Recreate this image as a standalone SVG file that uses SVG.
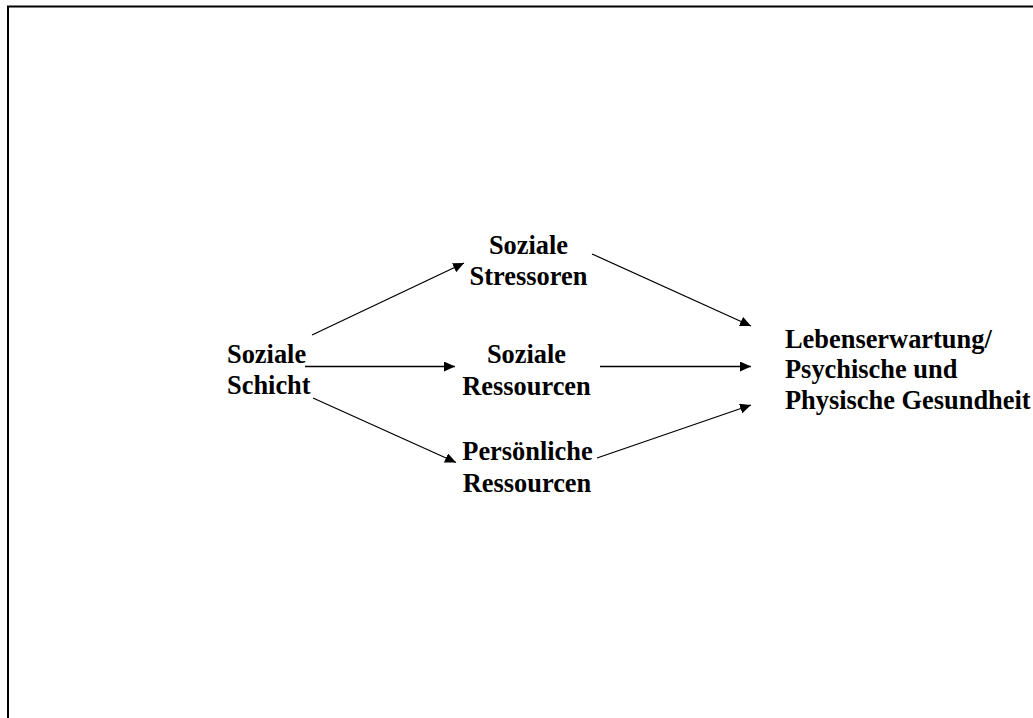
<svg xmlns="http://www.w3.org/2000/svg" width="1033" height="718" viewBox="0 0 1033 718">
  <style>
    .lbl { font-family: "Liberation Serif", "Times New Roman", serif; font-weight: bold; font-size: 26.4px; fill: #000; }
    .mid { text-anchor: middle; }
    .edge { stroke: #000; stroke-width: 1.3; fill: none; marker-end: url(#head); }
  </style>
  <defs>
    <marker id="head" markerUnits="userSpaceOnUse" markerWidth="12" markerHeight="10" refX="11" refY="5" orient="auto">
      <path d="M0,0 L11,5 L0,10 Z" fill="#000"/>
    </marker>
  </defs>
  <rect width="1033" height="718" fill="#fff"/>
  <!-- frame: top and left edges only -->
  <path d="M8,718 V6.5 H1033" fill="none" stroke="#000" stroke-width="2"/>

  <g id="connectors">
    <line class="edge" x1="312" y1="335" x2="464" y2="263"/>
    <line class="edge" x1="305" y1="366.5" x2="455" y2="366.5"/>
    <line class="edge" x1="313" y1="398" x2="456" y2="462.5"/>
    <line class="edge" x1="592" y1="254" x2="751" y2="326"/>
    <line class="edge" x1="600" y1="366.5" x2="751" y2="366.5"/>
    <line class="edge" x1="597" y1="458" x2="751" y2="405"/>
  </g>

  <g id="soziale-schicht">
    <text class="lbl" x="227" y="363">Soziale</text>
    <text class="lbl" x="227" y="394">Schicht</text>
  </g>
  <g id="soziale-stressoren">
    <text class="lbl mid" x="528.5" y="254">Soziale</text>
    <text class="lbl mid" x="528.5" y="285">Stressoren</text>
  </g>
  <g id="soziale-ressourcen">
    <text class="lbl mid" x="526.5" y="363">Soziale</text>
    <text class="lbl mid" x="526.5" y="394.5">Ressourcen</text>
  </g>
  <g id="persoenliche-ressourcen">
    <text class="lbl mid" x="527.5" y="460">Persönliche</text>
    <text class="lbl mid" x="527" y="491.5">Ressourcen</text>
  </g>
  <g id="gesundheit">
    <text class="lbl" x="785" y="347.5">Lebenserwartung/</text>
    <text class="lbl" x="785" y="378">Psychische und</text>
    <text class="lbl" x="785" y="408.5">Physische Gesundheit</text>
  </g>
</svg>
